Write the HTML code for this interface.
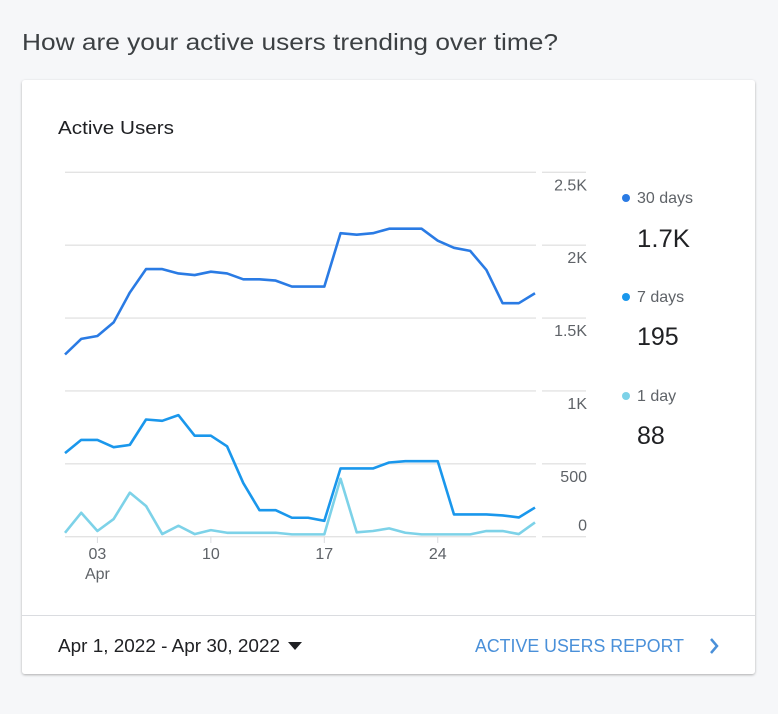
<!DOCTYPE html>
<html><head><meta charset="utf-8"><style>
html,body{margin:0;padding:0;background:#f6f7f9;}
svg{display:block;font-family:"Liberation Sans",sans-serif;}
</style></head><body>
<svg id="root" width="778" height="714" viewBox="0 0 778 714" xmlns="http://www.w3.org/2000/svg">
<defs><filter id="sh" x="-5%" y="-5%" width="110%" height="110%"><feDropShadow dx="0" dy="1" stdDeviation="1.2" flood-color="#000" flood-opacity="0.3"/></filter></defs>
<text x="22" y="50" font-size="23" fill="#3c4043" textLength="536" lengthAdjust="spacingAndGlyphs">How are your active users trending over time?</text>
<rect x="22" y="80" width="733" height="594" rx="3" fill="#fff" filter="url(#sh)"/>
<text x="58" y="134" font-size="18" fill="#202124" textLength="116" lengthAdjust="spacingAndGlyphs">Active Users</text>
<g id="grid"></g>
<g id="yticks"></g>
<g id="xticks"></g>
<g id="series"></g>
<g>
<g><circle cx="626" cy="198" r="4" fill="#2a7be4"/><text x="637" y="203" font-size="16" fill="#5f6368">30 days</text><text x="637" y="247" font-size="25" fill="#202124" textLength="53" lengthAdjust="spacingAndGlyphs">1.7K</text></g>
<g><circle cx="626" cy="297" r="4" fill="#1a97ec"/><text x="637" y="302" font-size="16" fill="#5f6368">7 days</text><text x="637" y="345" font-size="25" fill="#202124">195</text></g>
<g><circle cx="626" cy="396" r="4" fill="#7dd2e8"/><text x="637" y="401" font-size="16" fill="#5f6368">1 day</text><text x="637" y="444" font-size="25" fill="#202124">88</text></g>
</g>
<line x1="22" y1="615.5" x2="755" y2="615.5" stroke="#dadce0"/>
<g><text x="58" y="652" font-size="18" fill="#202124" textLength="222" lengthAdjust="spacingAndGlyphs">Apr 1, 2022 - Apr 30, 2022</text><path d="M288 642 L302 642 L295 650 Z" fill="#202124"/></g>
<g><text x="475" y="652" font-size="18" fill="#4a90d9" textLength="209" lengthAdjust="spacingAndGlyphs">ACTIVE USERS REPORT</text><path d="M711 639 L717 646 L711 653" fill="none" stroke="#4a90d9" stroke-width="2.5"/></g>
</svg>
<script>
const days = [1,2,3,4,5,6,7,8,9,10,11,12,13,14,15,16,17,18,19,20,21,22,23,24,25,26,27,28,29,30];
const users30 = [1250,1357,1377,1470,1675,1836,1836,1806,1795,1818,1806,1766,1766,1757,1716,1716,1716,2082,2072,2082,2113,2113,2113,2031,1982,1961,1830,1602,1602,1670];
const users7 = [573,664,664,614,630,804,795,834,693,693,620,368,182,182,130,130,109,468,468,468,509,518,518,518,153,153,153,146,132,200];
const users1 = [27,164,39,121,302,211,18,75,18,45,27,27,27,27,16,16,16,398,30,39,57,27,16,16,16,16,39,39,18,98];
const yTickValues = [0,500,1000,1500,2000,2500];
const yTickLabels = ["0","500","1K","1.5K","2K","2.5K"];
const xTickDays = [3,10,17,24];
const xTickLabels = ["03","10","17","24"];
const NS="http://www.w3.org/2000/svg";
function X(d){return 65+(d-1)*(470/29);}
function Y(v){return 536.7-v*(364.4/2500);}
function mk(tag,attrs,parent){const e=document.createElementNS(NS,tag);for(const k in attrs)e.setAttribute(k,attrs[k]);parent.appendChild(e);return e;}
const grid=document.getElementById('grid'),yt=document.getElementById('yticks'),xt=document.getElementById('xticks'),ser=document.getElementById('series');
yTickValues.forEach((v,i)=>{
  const y=Y(v);
  const l=mk('line',{x1:65,x2:536,y1:y,y2:y,stroke:'#e3e3e3','stroke-width':1.3},grid);
  
  
  const l2=mk('line',{x1:542,x2:586,y1:y,y2:y,stroke:'#e3e3e3','stroke-width':1.3},grid);
  
  
  const ty = v===0 ? y-6 : y+18;
  const t=mk('text',{x:587,y:ty,'font-size':16,fill:'#5f6368','text-anchor':'end'},yt);
  t.textContent=yTickLabels[i];
  
  
});
xTickDays.forEach((d,i)=>{
  const x=X(d);
  const tk=mk('line',{x1:x,x2:x,y1:537,y2:543,stroke:'#dadce0'},xt);
  
  
  const t=mk('text',{x:x,y:559,'font-size':16,fill:'#5f6368','text-anchor':'middle'},xt);
  t.textContent=xTickLabels[i];
  
  
});
const mt=mk('text',{x:X(3),y:579,'font-size':16,fill:'#5f6368','text-anchor':'middle'},xt);
mt.textContent='Apr';


function line(arr,color,name){
  const p=mk('polyline',{points:arr.map((v,i)=>X(days[i])+','+Y(v)).join(' '),fill:'none',stroke:color,'stroke-width':2.6,'stroke-linejoin':'round'},ser);
  
  
}
line(users1,'#7dd2e8','line-1-day');
line(users7,'#1a97ec','line-7-days');
line(users30,'#2a7be4','line-30-days');
</script>
</body></html>
